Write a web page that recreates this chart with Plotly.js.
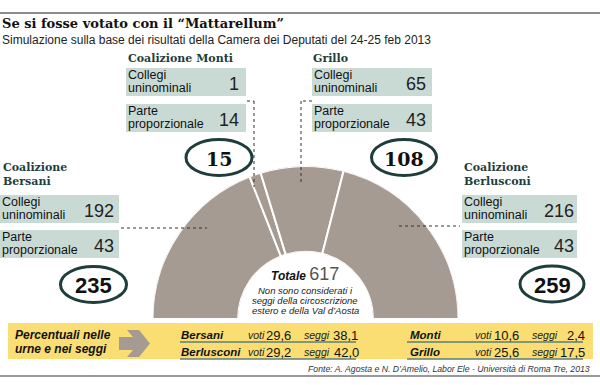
<!DOCTYPE html>
<html><head><meta charset="utf-8">
<script src="https://cdn.plot.ly/plotly-3.0.1.min.js"></script>
<style>html,body{margin:0;padding:0;background:#fff}#chart{width:600px;height:385px}</style>
</head><body><div id="chart"></div>
<script>
// ---- DATA ----
const coalizioni = ['Bersani', 'Monti', 'Grillo', 'Berlusconi'];
const titoliBlocchi = [['Coalizione', 'Bersani'], ['Coalizione Monti'], ['Grillo'], ['Coalizione', 'Berlusconi']];
const uninominali = [192, 1, 65, 216];
const proporzionale = [43, 14, 43, 43];
const seggiTotali = [235, 15, 108, 259];
const totaleSeggi = 617;
const etichettaUni = ['Collegi', 'uninominali'];
const etichettaProp = ['Parte', 'proporzionale'];
const partitiPerc = ['Bersani', 'Berlusconi', 'Monti', 'Grillo'];
const votiPerc = [29.6, 29.2, 10.6, 25.6];
const seggiPerc = [38.1, 42.0, 2.4, 17.5];
const titolo = 'Se si fosse votato con il “Mattarellum”';
const sottotitolo = 'Simulazione sulla base dei risultati della Camera dei Deputati del 24-25 feb 2013';
const notaCentro = ['Non sono considerati i', 'seggi della circoscrizione', 'estero e della Val d’Aosta'];
const fonte = 'Fonte: A. Agosta e N. D’Amelio, Labor Ele - Università di Roma Tre, 2013';

// ---- LAYOUT HELPERS ----
const W = 600, H = 385;
const X = p => p / W, Y = p => 1 - p / H;
const SANS = 'Liberation Sans, Arial, sans-serif';
const SERIF = 'DejaVu Serif, serif';
const TEAL = '#1f3d3b', BOX = '#c9dad5', SEG = '#a59b93', YEL = '#fadd73';
const fmt = v => v.toFixed(1).replace('.', ',');
const ann = [], shapes = [];
function txt(x, y, text, size, opt) {
  opt = opt || {};
  ann.push({xref: 'paper', yref: 'paper', x: X(x), y: Y(y), text: text, showarrow: false,
    xanchor: opt.anchor || 'left', yanchor: 'middle', borderpad: 0,
    font: {family: opt.family || SANS, size: size, color: opt.color || '#111'}});
}
function rect(x0, y0, x1, y1, color) {
  shapes.push({type: 'rect', xref: 'paper', yref: 'paper', x0: X(x0), x1: X(x1), y0: Y(y1), y1: Y(y0),
    fillcolor: color, line: {width: 0}, layer: 'below'});
}
function line(x0, y0, x1, y1, color, width, dash) {
  shapes.push({type: 'line', xref: 'paper', yref: 'paper', x0: X(x0), x1: X(x1), y0: Y(y0), y1: Y(y1),
    line: {color: color, width: width, dash: dash || 'solid'}});
}

// header
line(0, 13, 600, 13, '#666', 1.5);
txt(1, 23, '<b>' + titolo + '</b>', 13, {family: SERIF, color: '#111'});
txt(1, 40, sottotitolo, 12, {color: '#222'});

// blocks
const blocchi = [
  {tx: 2, ty: [168, 182], bl: 0, br: 119, b1: 195, b2: 230, nr: 115, ov: {cx: 93.5, cy: 284.5, rx: 33, ry: 18}, of: SANS},
  {tx: 127, ty: [58], bl: 126, br: 246, b1: 68, b2: 104, nr: 240, ov: {cx: 219, cy: 157.5, rx: 33, ry: 18}, of: SERIF},
  {tx: 312, ty: [59], bl: 312, br: 432, b1: 68, b2: 104, nr: 427, ov: {cx: 404, cy: 157.5, rx: 32.5, ry: 18}, of: SERIF},
  {tx: 463, ty: [167, 182], bl: 462, br: 577, b1: 195, b2: 230, nr: 575, ov: {cx: 552, cy: 284, rx: 32, ry: 18}, of: SANS}
];
const BH = 28;
blocchi.forEach((b, i) => {
  titoliBlocchi[i].forEach((t, k) => txt(b.tx, b.ty[k], '<b>' + t + '</b>', 11, {family: SERIF, color: TEAL}));
  rect(b.bl, b.b1, b.br, b.b1 + BH, BOX);
  rect(b.bl, b.b2, b.br, b.b2 + BH, BOX);
  txt(b.bl + 1, b.b1 + 7, etichettaUni[0], 12.5);
  txt(b.bl + 1, b.b1 + 20, etichettaUni[1], 12.5);
  txt(b.bl + 1, b.b2 + 7, etichettaProp[0], 12.5);
  txt(b.bl + 1, b.b2 + 20, etichettaProp[1], 12.5);
  txt(b.nr, b.b1 + BH / 2 + 2, String(uninominali[i]), 18, {anchor: 'right', color: '#222'});
  txt(b.nr, b.b2 + BH / 2 + 2, String(proporzionale[i]), 18, {anchor: 'right', color: '#222'});
  shapes.push({type: 'circle', xref: 'paper', yref: 'paper',
    x0: X(b.ov.cx - b.ov.rx), x1: X(b.ov.cx + b.ov.rx), y0: Y(b.ov.cy + b.ov.ry), y1: Y(b.ov.cy - b.ov.ry),
    line: {color: TEAL, width: 3}, fillcolor: 'rgba(0,0,0,0)'});
  txt(b.ov.cx, b.ov.cy + 1, '<b>' + seggiTotali[i] + '</b>', b.of === SERIF ? 19 : 22,
    {anchor: 'center', family: b.of, color: '#111'});
});

// leader lines
line(121, 228, 207, 228, '#333', 1, 'dot');
line(399, 226, 460, 226, '#333', 1, 'dot');
line(247, 101, 254, 101, '#333', 1, 'dot');
line(254, 101, 254, 187, '#333', 1, 'dot');
line(312, 101, 301, 101, '#333', 1, 'dot');
line(301, 101, 301, 185, '#333', 1, 'dot');

// centre text
txt(305, 274, '<b><i>Totale</i></b> <span style="font-size:18px;color:#555">' + totaleSeggi + '</span>', 12, {anchor: 'center'});
notaCentro.forEach((t, k) => txt(305, 290 + k * 10.3, '<i>' + t + '</i>', 9.5, {anchor: 'center', color: '#222'}));

// yellow band
rect(8, 323, 593, 359, YEL);
txt(14, 335, '<b><i>Percentuali nelle</i></b>', 12);
txt(14, 349, '<b><i>urne e nei seggi</i></b>', 12);
shapes.push({type: 'path', xref: 'paper', yref: 'paper', fillcolor: SEG, line: {width: 0},
  path: 'M' + X(119) + ',' + Y(337) + ' L' + X(133) + ',' + Y(337) + ' L' + X(127) + ',' + Y(330) +
        ' L' + X(139) + ',' + Y(330) + ' L' + X(150) + ',' + Y(343.5) + ' L' + X(139) + ',' + Y(357) +
        ' L' + X(127) + ',' + Y(357) + ' L' + X(133) + ',' + Y(350) + ' L' + X(119) + ',' + Y(350) + ' Z'});
const cols = [
  {nx: 180, vx: 247, vnx: 265, sx: 303, snx: [332, 333], ux: [180, 356]},
  {nx: 409, vx: 474, vnx: 493, sx: 531, snx: [566, 559], ux: [407, 583]}
];
partitiPerc.forEach((p, i) => {
  const c = cols[Math.floor(i / 2)], r = i % 2, y = r ? 352 : 335;
  txt(c.nx, y, '<b><i>' + p + '</i></b>', 11.5);
  txt(c.vx, y, '<i>voti</i>', 10.5, {color: '#222'});
  txt(c.vnx, y, fmt(votiPerc[i]), 13);
  txt(c.sx, y, '<i>seggi</i>', 10.5, {color: '#222'});
  txt(c.snx[r], y, fmt(seggiPerc[i]), 13);
  line(c.ux[0], y + 7, c.ux[1], y + 7, '#5b7f7a', 1.5);
});

// footer
txt(591, 369, '<i>' + fonte + '</i>', 8.7, {anchor: 'right', color: '#333'});
line(0, 376, 600, 376, '#999', 2);

// ---- HEMICYCLE (barpolar) ----
const widths = seggiTotali.map(v => v / totaleSeggi * 180);
let acc = 0;
const thetas = widths.map(w => { const t = acc + w / 2; acc += w; return t; });
const trace = {
  type: 'barpolar', r: seggiTotali.map(() => 1), theta: thetas, width: widths, text: coalizioni,
  marker: {color: SEG, line: {color: '#fff', width: 2}}, hoverinfo: 'text'
};
const layout = {
  width: W, height: H, margin: {l: 0, r: 0, t: 0, b: 0}, showlegend: false,
  paper_bgcolor: '#fff',
  polar: {
    domain: {x: [X(152.5), X(458.5)], y: [Y(319), Y(166)]},
    sector: [0, 180], hole: 0.44, bgcolor: 'rgba(0,0,0,0)',
    radialaxis: {visible: false, range: [0, 1]},
    angularaxis: {visible: false, rotation: 180, direction: 'clockwise'}
  },
  annotations: ann, shapes: shapes
};
Plotly.newPlot('chart', [trace], layout, {displayModeBar: false, staticPlot: true});
</script></body></html>
